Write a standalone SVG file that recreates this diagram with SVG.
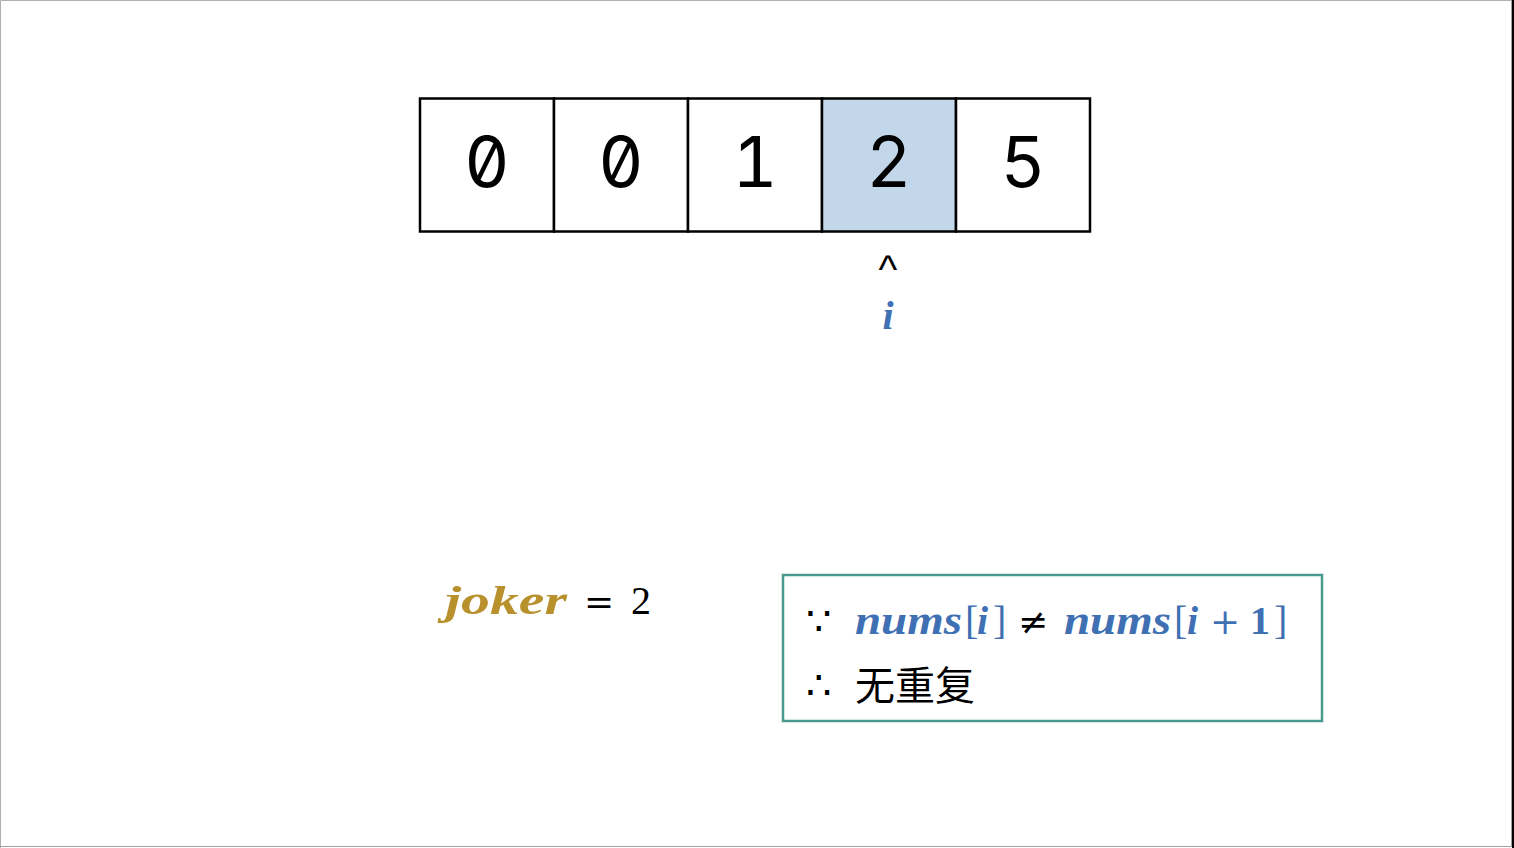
<svg xmlns="http://www.w3.org/2000/svg" width="1514" height="848" viewBox="0 0 1514 848">
<style>
.cell{fill:#ffffff;stroke:#000000;stroke-width:2.5}
.hl{fill:#c3d7eb}
.dig{font-family:Inter,"DejaVu Sans Mono",monospace;font-size:70px;text-anchor:middle;fill:#000;font-feature-settings:"zero" 1,"tnum" 1}
.math{font-family:"Liberation Serif","DejaVu Serif",serif;font-size:40px}
.op{font-family:"DejaVu Serif","Liberation Serif",serif;font-size:36px}
.bi{font-weight:bold;font-style:italic}
.blue{fill:#3f70b3}
.gold{fill:#b8902c}
.blk{fill:#000}
.cjk{font-family:"Noto Sans CJK SC","Noto Sans",sans-serif}
</style>
<rect x="0" y="0" width="1514" height="848" fill="#ffffff"/>
<path d="M0.5 848V0.5H1511" fill="none" stroke="#b0b0b0" stroke-width="1"/>
<path d="M0 846.5H1511.5V0" fill="none" stroke="#a0a0a0" stroke-width="1"/>
<rect x="1512" y="0" width="2" height="848" fill="#000"/>
<g id="array">
<g id="cell0"><rect class="cell" x="420" y="98.5" width="134" height="133"/><text class="dig" x="487" y="187">0</text></g>
<g id="cell1"><rect class="cell" x="554" y="98.5" width="134" height="133"/><text class="dig" x="621" y="187">0</text></g>
<g id="cell2"><rect class="cell" x="688" y="98.5" width="134" height="133"/><text class="dig" x="755" y="187">1</text></g>
<g id="cell3"><rect class="cell hl" x="822" y="98.5" width="134" height="133"/><text class="dig" x="889" y="187">2</text></g>
<g id="cell4"><rect class="cell" x="956" y="98.5" width="134" height="133"/><text class="dig" x="1023" y="187">5</text></g>
</g>
<g id="pointer">
<text x="888" y="283" font-family="Liberation Sans,sans-serif" font-size="40" text-anchor="middle" fill="#000">^</text>
<text x="888" y="329" class="math bi blue" text-anchor="middle">i</text>
</g>
<g id="joker">
<text x="445" y="614" class="math bi gold" font-size="42" textLength="122" lengthAdjust="spacingAndGlyphs">joker</text>
<text x="584" y="614" class="op blk">=</text>
<text x="631" y="614" class="math blk" font-size="41">2</text>
</g>
<g id="box">
<rect x="783" y="575" width="539" height="146" fill="#fff" stroke="#4a9b8e" stroke-width="2.5"/>
<text x="806" y="635" class="math blk" font-size="38">∵</text>
<text x="855" y="634" class="math bi blue" textLength="107" lengthAdjust="spacingAndGlyphs">nums</text>
<text x="965" y="634" class="math blue" font-size="44">[</text>
<text x="977" y="634" class="math bi blue">i</text>
<text x="993" y="634" class="math blue" font-size="44">]</text>
<text x="1018" y="634" class="op blk">≠</text>
<text x="1064" y="634" class="math bi blue" textLength="107" lengthAdjust="spacingAndGlyphs">nums</text>
<text x="1174" y="634" class="math blue" font-size="44">[</text>
<text x="1187" y="634" class="math bi blue">i</text>
<text x="1210" y="634" class="op blue">+</text>
<text x="1250" y="634" class="math blue" font-weight="bold">1</text>
<text x="1274" y="634" class="math blue" font-size="44">]</text>
<text x="806" y="699" class="math blk" font-size="38">∴</text>
<text x="855" y="700" class="cjk" font-size="40" fill="#000">无重复</text>
</g>
</svg>
